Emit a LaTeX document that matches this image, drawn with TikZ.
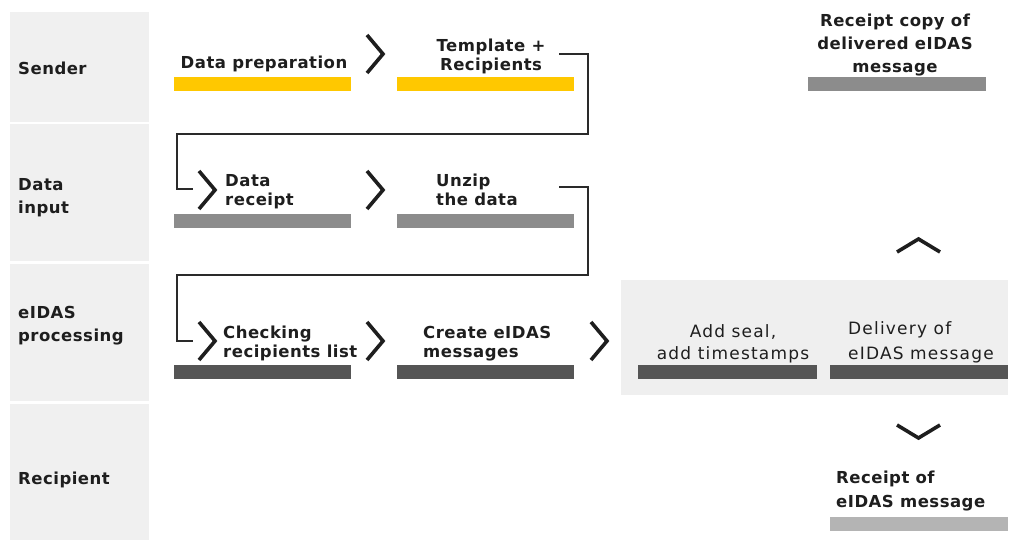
\documentclass[tikz,border=0pt]{standalone}
\usepackage{fontspec}
\setmainfont[LetterSpace=3]{DejaVu Sans}
\newfontfamily\regwide[LetterSpace=7]{DejaVu Sans}
\definecolor{lanegray}{HTML}{F0F0F0}
\definecolor{boxgray}{HTML}{EFEFEF}
\definecolor{baryellow}{HTML}{FFC800}
\definecolor{barmid}{HTML}{8C8C8C}
\definecolor{bardark}{HTML}{555555}
\definecolor{barlight}{HTML}{B4B4B4}
\definecolor{ink}{HTML}{1E1E1E}
\definecolor{wire}{HTML}{2A2A2A}
\begin{document}
\begin{tikzpicture}[x=1pt,y=-1pt,
  lane/.style={fill=lanegray,draw=none},
  lbl/.style={inner sep=0pt,text=ink,font=\fontsize{16.5}{23}\selectfont\bfseries,align=left},
  stp/.style={inner sep=0pt,text=ink,font=\fontsize{16.5}{19}\selectfont\bfseries},
  stpr/.style={inner sep=0pt,text=ink,font=\regwide\fontsize{17}{22}\selectfont},
  bar/.style={rectangle,inner sep=0pt,minimum width=177,minimum height=14,anchor=north west},
  chev/.style={draw=ink,line width=3.6pt,line join=miter,line cap=butt},
  wireline/.style={draw=wire,line width=1.3pt}]
\useasboundingbox (0,0) rectangle (1011,540);
% lanes
\fill[lane] (10,12) rectangle (149,122);
\fill[lane] (10,124) rectangle (149,261);
\fill[lane] (10,264) rectangle (149,401);
\fill[lane] (10,404) rectangle (149,540);
\node[lbl,anchor=base west] (lsender) at (18,75) {Sender};
\node[lbl,anchor=base west] (linput) at (18,213) {Data\\input};
\node[lbl,anchor=base west] (lproc) at (18,341) {eIDAS\\processing};
\node[lbl,anchor=base west] (lrecip) at (18,484) {Recipient};
% processing box
\fill[boxgray] (621,280) rectangle (1008,395);
% bars
\node[bar,fill=baryellow] (b1) at (174,77) {};
\node[bar,fill=baryellow] (b2) at (397,77) {};
\node[bar,fill=barmid] (b3) at (174,214) {};
\node[bar,fill=barmid] (b4) at (397,214) {};
\node[bar,fill=bardark] (b5) at (174,365) {};
\node[bar,fill=bardark] (b6) at (397,365) {};
\node[bar,fill=bardark,minimum width=179] (b7) at (638,365) {};
\node[bar,fill=bardark,minimum width=178] (b8) at (830,365) {};
\node[bar,fill=barmid,minimum width=178] (b9) at (808,77) {};
\node[bar,fill=barlight,minimum width=178] (b10) at (830,517) {};
% texts
\node[stp,anchor=base] (t1) at (264,69) {Data preparation};
\node[stp,anchor=base,align=center] (t2) at (491,71) {Template +\\Recipients};
\node[stp,anchor=base west,align=left] (t3) at (225,205) {Data\\receipt};
\node[stp,anchor=base west,align=left] (t4) at (436,205) {Unzip\\the data};
\node[stp,anchor=base west,align=left] (t5) at (223,357) {Checking\\recipients list};
\node[stp,anchor=base west,align=left] (t6) at (423,357) {Create eIDAS\\messages};
\node[stpr,anchor=base,align=center] (t7) at (733,359) {Add seal,\\add timestamps};
\node[stpr,font=\regwide\fontsize{17}{25}\selectfont,anchor=base west,align=left] (t8) at (848,359) {Delivery of\\eIDAS message};
\node[stp,font=\fontsize{16.5}{23}\selectfont\bfseries,anchor=base,align=center] (t9) at (895,73) {Receipt copy of\\delivered eIDAS\\message};
\node[stp,font=\fontsize{16.5}{24}\selectfont\bfseries,anchor=base west,align=left] (t10) at (836,507) {Receipt of\\eIDAS message};
% chevrons
\draw[chev] (367,35) -- (383,54) -- (367,73);
\draw[chev] (199,171) -- (215,190) -- (199,209);
\draw[chev] (367,171) -- (383,190) -- (367,209);
\draw[chev] (199,322) -- (215,341) -- (199,360);
\draw[chev] (367,322) -- (383,341) -- (367,360);
\draw[chev] (591,322) -- (607,341) -- (591,360);
\draw[chev] (897,252) -- (918.5,239) -- (940,252);
\draw[chev] (897,425) -- (918.5,438) -- (940,425);
% connectors
\coordinate (w1s) at (559,54);
\coordinate (w1e) at (193,189);
\coordinate (w2s) at (559,187);
\coordinate (w2e) at (193,341);
\draw[wireline] (w1s) -| (588,134) -| (177,189) -- (w1e);
\draw[wireline] (w2s) -| (588,275) -| (177,341) -- (w2e);
\end{tikzpicture}
\end{document}
